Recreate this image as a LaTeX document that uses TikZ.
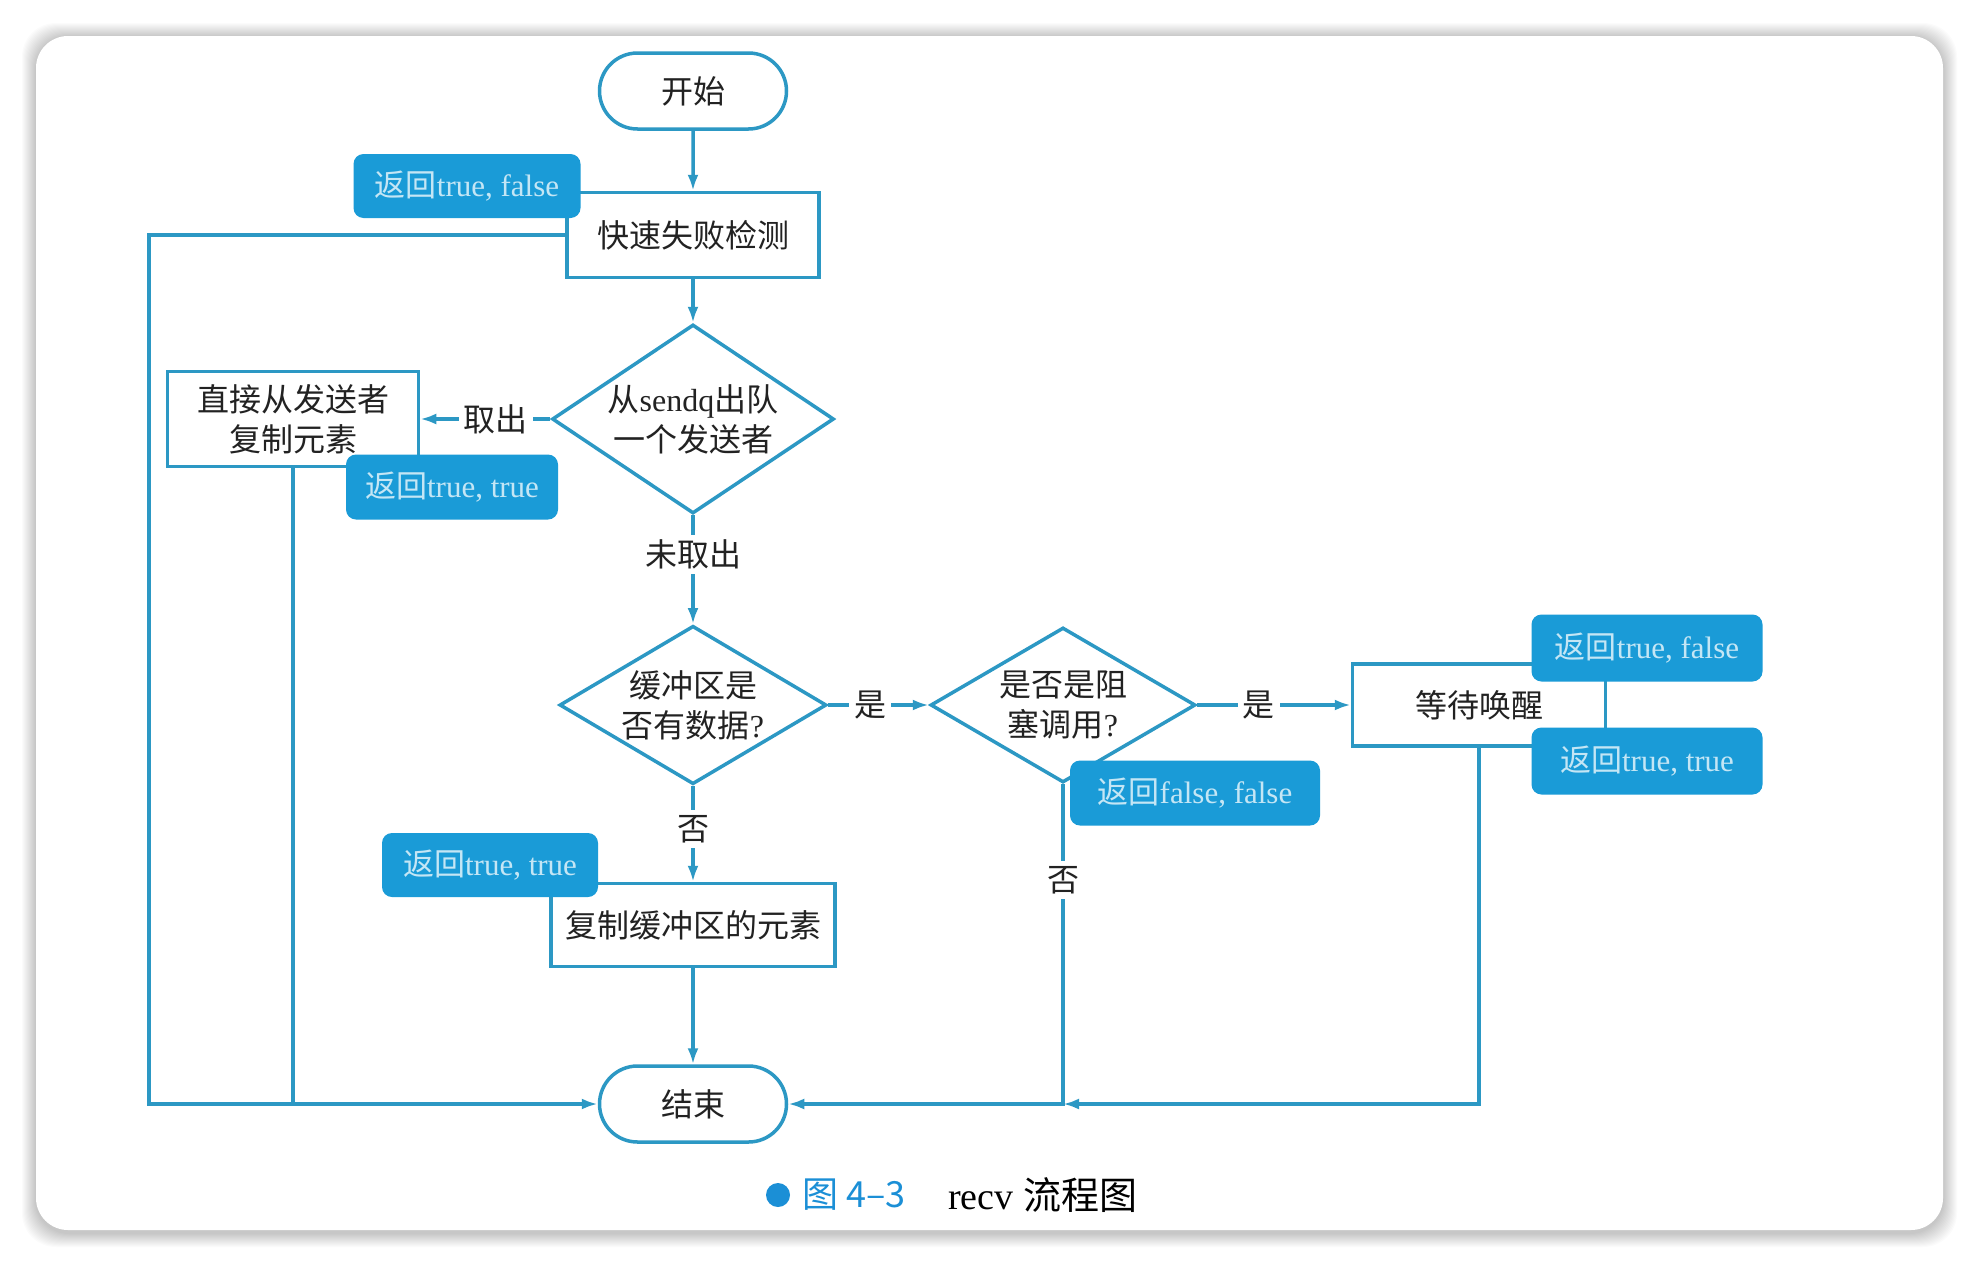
\documentclass[tikz,border=0pt]{standalone}
\usepackage{fontspec}
\setmainfont{Liberation Serif}
\newfontfamily\cjk{Noto Sans CJK SC}
\usetikzlibrary{shapes.geometric,shapes.misc,arrows.meta}
\definecolor{ln}{HTML}{2C98C4}
\definecolor{tagc}{HTML}{1A9BD7}
\definecolor{tagt}{HTML}{C4E6F5}
\definecolor{capb}{HTML}{1B8FD6}
\definecolor{txt}{HTML}{222222}
\begin{document}
\begin{tikzpicture}[x=1pt,y=-1pt,
  base/.style={draw=ln, line width=3.5pt, fill=white, text=txt, font=\cjk\fontsize{32}{40}\selectfont, align=center, inner sep=0pt},
  term/.style={base, rounded rectangle, minimum width=187pt, minimum height=76pt},
  procbox/.style={base, rectangle},
  dec/.style={base, diamond, aspect=1.6},
  tag/.style={fill=tagc, rounded corners=10pt, text=tagt, font=\fontsize{31}{36}\selectfont, inner sep=0pt, align=center},
  lbl/.style={fill=white, text=txt, font=\cjk\fontsize{32}{40}\selectfont, inner sep=5pt},
  conn/.style={draw=ln, line width=3.5pt},
  arr/.style={conn, -{Latex[length=16pt,width=11pt]}}
]
\useasboundingbox (0,0) rectangle (1978,1266);
\fill[white] (0,0) rectangle (1978,1266);
% card shadow
\foreach \i in {1,...,14}{
  \fill[black, opacity=0.016, rounded corners=34pt] (36-\i,37-\i) rectangle (1943+\i,1233+\i);
}
\fill[white, rounded corners=32pt] (36,36) rectangle (1943,1230);

% nodes
\node[term] (start) at (693,91) {开始};
\node[procbox, minimum width=252pt, minimum height=85pt] (fast) at (693,235) {快速失败检测};
\node[dec, minimum width=270pt, minimum height=189pt] (d1) at (693,419) {从{\rmfamily sendq}出队\\一个发送者};
\node[procbox, minimum width=251pt, minimum height=95pt] (direct) at (293,419) {直接从发送者\\复制元素};
\node[dec, minimum width=267pt, minimum height=158pt] (d2) at (693,705) {缓冲区是\\否有数据{\rmfamily ?}};
\node[dec, minimum width=265pt, minimum height=155pt] (d3) at (1063,705) {是否是阻\\塞调用{\rmfamily ?}};
\node[procbox, minimum width=253pt, minimum height=82pt] (wait) at (1479,705) {等待唤醒};
\node[procbox, minimum width=284pt, minimum height=83pt] (copy) at (693,925) {复制缓冲区的元素};
\node[term] (end) at (693,1104) {结束};

% connectors
\draw[arr] (start) -- (fast);
\draw[arr] (fast) -- (d1);
\coordinate (lc) at (149,1104);
\draw[arr] (fast.west) -| (lc) -- (end.west);
\draw[arr] (d1.west) -- node[lbl, pos=0.42]{取出} (direct.east);
\draw[conn] (direct.south) -- (direct.south |- end.west);
\draw[arr] (d1.south) -- node[lbl, pos=0.36]{未取出} (d2.north);
\draw[arr] (d2.east) -- node[lbl, pos=0.42]{是} (d3.west);
\draw[arr] (d3.east) -- node[lbl, pos=0.4]{是} (wait.west);
\draw[arr] (d2.south) -- node[lbl, pos=0.45]{否} (copy.north);
\draw[arr] (copy.south) -- (end.north);
\path (d3.south |- end.east) coordinate (j3);
\draw[arr] (d3.south) -- node[lbl, pos=0.3]{否} (j3) -- (end.east);
\draw[arr] (wait.south) |- (j3);

% tags
\node[tag, minimum width=227pt, minimum height=64pt] (t1) at (467,186) {{\cjk 返回}true, false};
\node[tag, minimum width=212pt, minimum height=65pt] (t2) at (452,487) {{\cjk 返回}true, true};
\node[tag, minimum width=216pt, minimum height=64pt] (t6) at (490,865) {{\cjk 返回}true, true};
\node[tag, minimum width=250pt, minimum height=65pt] (t5) at (1195,793) {{\cjk 返回}false, false};
\node[tag, minimum width=231pt, minimum height=67pt] (t3) at (1647,648) {{\cjk 返回}true, false};
\node[tag, minimum width=231pt, minimum height=67pt] (t4) at (1647,761) {{\cjk 返回}true, true};

% caption
\fill[capb] (778,1195) circle (12);
\node[anchor=west, text=capb, font=\cjk\fontsize{36}{42}\selectfont, inner sep=0pt] (cap1) at (802,1195) {图 4–3};
\node[anchor=west, text=black, font=\fontsize{38}{42}\selectfont, inner sep=0pt] (cap2) at (948,1195) {recv {\cjk 流程图}};
\end{tikzpicture}
\end{document}
